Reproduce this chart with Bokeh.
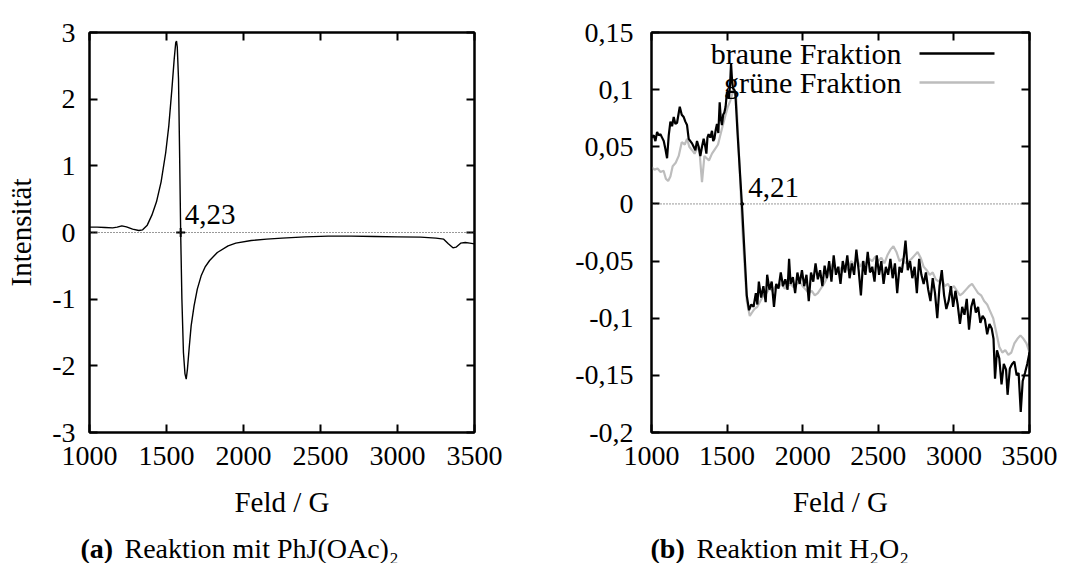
from bokeh.plotting import figure
from bokeh.layouts import row, column
from bokeh.models import Range1d, FixedTicker, LinearAxis, Span, Label, CustomJSTickFormatter
from bokeh.embed import file_html
from bokeh.resources import INLINE

# ---------------- data ----------------
x_ticks = [1000, 1500, 2000, 2500, 3000, 3500]
left_y_ticks = [-3, -2, -1, 0, 1, 2, 3]
right_y_ticks = [-0.2, -0.15, -0.1, -0.05, 0, 0.05, 0.1, 0.15]

# (a) PhJ(OAc)2
a_field = [1000, 1050, 1100, 1150, 1180, 1210, 1240, 1280, 1320, 1345, 1375, 1405, 1435, 1465,
           1495, 1515, 1535, 1550, 1560, 1565, 1570, 1578, 1585, 1592, 1600, 1610, 1620, 1628,
           1636, 1647, 1660, 1679, 1700, 1725, 1750, 1780, 1830, 1900, 1950, 2050, 2150, 2250,
           2400, 2550, 2700, 2850, 3000, 3150, 3250, 3300, 3330, 3360, 3380, 3410, 3440, 3470, 3500]
a_int = [0.08, 0.08, 0.075, 0.07, 0.08, 0.1, 0.085, 0.05, 0.03, 0.04, 0.11, 0.26, 0.46, 0.76,
         1.2, 1.6, 2.15, 2.6, 2.85, 2.87, 2.78, 2.3, 1.2, 0.0, -1.0, -1.8, -2.12, -2.2,
         -2.05, -1.74, -1.4, -1.1, -0.85, -0.65, -0.52, -0.42, -0.3, -0.2, -0.16, -0.12, -0.1, -0.085,
         -0.065, -0.055, -0.055, -0.06, -0.065, -0.07, -0.085, -0.1, -0.17, -0.23, -0.22, -0.16, -0.15, -0.16, -0.17]
a_mark_field = [1592]
a_mark_value = ["4,23"]

# (b) H2O2 - braune Fraktion
b_field = [1000, 1015, 1026, 1037, 1048, 1059, 1070, 1081, 1092, 1103, 1114, 1125, 1136, 1147, 1158,
           1169, 1187, 1200, 1213, 1224, 1235, 1246, 1257, 1268, 1279, 1290, 1301, 1312, 1323, 1334,
           1345, 1356, 1363, 1370, 1378, 1389, 1400, 1408, 1416, 1425, 1433, 1442, 1451, 1458, 1466,
           1474, 1482, 1490, 1499, 1512, 1520, 1526, 1533, 1539, 1547, 1554, 1570, 1600, 1630, 1645,
           1660, 1675, 1690, 1700, 1710, 1725, 1740, 1755, 1765, 1780, 1795, 1810, 1825, 1840, 1855,
           1870, 1885, 1900, 1910, 1920, 1935, 1950, 1965, 1980, 1995, 2010, 2025, 2040, 2055, 2070,
           2085, 2100, 2115, 2130, 2145, 2160, 2175, 2190, 2205, 2220, 2235, 2250, 2265, 2280, 2295,
           2310, 2325, 2340, 2355, 2370, 2385, 2400, 2415, 2430, 2445, 2460, 2475, 2490, 2505, 2520,
           2535, 2550, 2565, 2580, 2595, 2610, 2625, 2640, 2655, 2670, 2680, 2695, 2710, 2725, 2740,
           2755, 2770, 2785, 2800, 2815, 2830, 2845, 2860, 2875, 2890, 2905, 2920, 2935, 2950, 2965,
           2980, 2995, 3010, 3025, 3040, 3055, 3070, 3085, 3100, 3115, 3130, 3145, 3160, 3175, 3190,
           3205, 3220, 3235, 3250, 3262, 3272, 3285, 3300, 3315, 3330, 3345, 3355, 3370, 3385, 3400,
           3415, 3428, 3442, 3455, 3470, 3485, 3500]
b_braun = [0.058, 0.06, 0.055, 0.063, 0.06, 0.061, 0.058, 0.055, 0.048, 0.04, 0.06, 0.072, 0.068, 0.076, 0.07,
           0.071, 0.085, 0.078, 0.076, 0.072, 0.069, 0.057, 0.055, 0.053, 0.05, 0.047, 0.055, 0.05, 0.042, 0.05,
           0.057, 0.05, 0.044, 0.058, 0.061, 0.058, 0.064, 0.055, 0.057, 0.065, 0.07, 0.062, 0.089, 0.075, 0.069,
           0.078, 0.08, 0.085, 0.098, 0.092, 0.105, 0.123, 0.108, 0.101, 0.1, 0.098, 0.06, -0.005, -0.08, -0.093,
           -0.088, -0.09, -0.078, -0.088, -0.068, -0.082, -0.072, -0.086, -0.062, -0.075, -0.068, -0.09, -0.07, -0.074, -0.06,
           -0.072, -0.066, -0.075, -0.048, -0.07, -0.064, -0.078, -0.06, -0.07, -0.058, -0.072, -0.062, -0.085, -0.06, -0.068,
           -0.052, -0.066, -0.058, -0.072, -0.054, -0.065, -0.05, -0.068, -0.045, -0.062, -0.055, -0.07, -0.05, -0.06, -0.045,
           -0.065, -0.052, -0.062, -0.04, -0.058, -0.08, -0.05, -0.062, -0.042, -0.06, -0.055, -0.068, -0.045, -0.062, -0.05,
           -0.07, -0.055, -0.062, -0.048, -0.065, -0.052, -0.078, -0.055, -0.06, -0.045, -0.032, -0.058, -0.05, -0.065, -0.055,
           -0.078, -0.048, -0.062, -0.07, -0.06, -0.075, -0.085, -0.065, -0.078, -0.1, -0.072, -0.058, -0.08, -0.092, -0.085,
           -0.072, -0.09, -0.076, -0.088, -0.105, -0.09, -0.097, -0.083, -0.11, -0.09, -0.083, -0.095, -0.09, -0.104, -0.098,
           -0.101, -0.114, -0.105, -0.109, -0.118, -0.153, -0.128, -0.135, -0.158, -0.14, -0.145, -0.167, -0.144, -0.14, -0.138,
           -0.15, -0.148, -0.182, -0.155, -0.148, -0.14, -0.13]

# (b) H2O2 - grüne Fraktion
g_field = [1000, 1020, 1040, 1060, 1080, 1095, 1110, 1125, 1140, 1160, 1180, 1200, 1220, 1235, 1250,
           1268, 1285, 1300, 1315, 1334, 1350, 1365, 1380, 1400, 1420, 1440, 1455, 1470, 1488, 1505,
           1520, 1543, 1561, 1580, 1600, 1630, 1650, 1665, 1680, 1700, 1720, 1740, 1760, 1780, 1800,
           1820, 1840, 1860, 1880, 1900, 1920, 1940, 1960, 1980, 2000, 2020, 2040, 2060, 2080, 2100,
           2120, 2140, 2160, 2180, 2200, 2220, 2240, 2260, 2280, 2300, 2320, 2340, 2360, 2380, 2400,
           2420, 2440, 2460, 2480, 2500, 2520, 2540, 2560, 2580, 2600, 2620, 2640, 2660, 2680, 2700,
           2720, 2740, 2760, 2780, 2800, 2820, 2840, 2860, 2880, 2900, 2920, 2940, 2960, 2980, 3000,
           3020, 3040, 3060, 3080, 3100, 3120, 3140, 3160, 3180, 3200, 3220, 3240, 3260, 3280, 3300,
           3320, 3340, 3360, 3380, 3400, 3420, 3440, 3460, 3480, 3500]
g_gruen = [0.032, 0.03, 0.031, 0.028, 0.029, 0.022, 0.02, 0.024, 0.033, 0.036, 0.042, 0.054, 0.052, 0.057, 0.05,
           0.047, 0.044, 0.048, 0.05, 0.019, 0.042, 0.04, 0.038, 0.044, 0.048, 0.052, 0.06, 0.068, 0.077, 0.085,
           0.09, 0.1, 0.092, 0.04, -0.02, -0.085, -0.098, -0.095, -0.092, -0.09, -0.085, -0.08, -0.078, -0.074, -0.076,
           -0.072, -0.073, -0.07, -0.074, -0.072, -0.07, -0.073, -0.07, -0.068, -0.072, -0.075, -0.078, -0.076, -0.08, -0.078,
           -0.074, -0.07, -0.065, -0.058, -0.052, -0.058, -0.055, -0.06, -0.054, -0.058, -0.05, -0.053, -0.048, -0.055, -0.05,
           -0.053, -0.048, -0.05, -0.046, -0.05, -0.047, -0.052, -0.045, -0.04, -0.037, -0.042, -0.05, -0.048, -0.052, -0.05,
           -0.048, -0.045, -0.042, -0.047, -0.055, -0.058, -0.062, -0.06, -0.066, -0.068, -0.065, -0.072, -0.07, -0.074, -0.072,
           -0.076, -0.08, -0.078, -0.075, -0.072, -0.07, -0.074, -0.078, -0.08, -0.085, -0.088, -0.094, -0.1, -0.112, -0.125,
           -0.13, -0.128, -0.132, -0.13, -0.122, -0.118, -0.115, -0.118, -0.122, -0.13]
b_mark_field = [1600]
b_mark_value = ["4,21"]
series_names = ["braune Fraktion", "grüne Fraktion"]
series_colors = ["#000000", "#bdbdbd"]
captions = [("(a)", "Reaktion mit PhJ(OAc)₂"), ("(b)", "Reaktion mit H₂O₂")]

# ---------------- style ----------------
FONT = "Liberation Serif"
TICK_FS = "28px"
LABEL_FS = "29px"
CAP_FS = "28px"
FRAME_H = 400
TOP = 32
CAP_H = 35
BOTTOM = 563 - TOP - FRAME_H - CAP_H

empty_fmt = CustomJSTickFormatter(code="return '';")


def style_axes(p, yticks, yformatter):
    p.xaxis.ticker = FixedTicker(ticks=x_ticks)
    p.yaxis.ticker = FixedTicker(ticks=yticks)
    p.yaxis.formatter = yformatter
    p.xaxis.formatter = CustomJSTickFormatter(code="return tick.toString();")
    for ax in p.xaxis + p.yaxis:
        ax.major_label_text_font = FONT
        ax.major_label_text_font_size = TICK_FS
        ax.major_label_text_color = "black"
        ax.axis_label_text_font = FONT
        ax.axis_label_text_font_size = LABEL_FS
        ax.axis_label_text_font_style = "normal"
        ax.axis_label_text_color = "black"
        ax.axis_line_width = 2
        ax.axis_line_color = "black"
        ax.major_tick_in = 8
        ax.major_tick_out = 0
        ax.major_tick_line_width = 2
        ax.minor_tick_line_color = None
        ax.major_label_standoff = 14
    p.xaxis.axis_label_standoff = 18
    p.yaxis.axis_label_standoff = 12
    # mirrored ticks on top and right
    top = LinearAxis(ticker=FixedTicker(ticks=x_ticks), formatter=empty_fmt, major_label_standoff=0,
                     major_tick_in=8, major_tick_out=0, major_tick_line_width=2,
                     axis_line_width=2, minor_tick_line_color=None)
    right = LinearAxis(ticker=FixedTicker(ticks=yticks), formatter=empty_fmt, major_label_standoff=0,
                       major_tick_in=8, major_tick_out=0, major_tick_line_width=2,
                       axis_line_width=2, minor_tick_line_color=None)
    p.add_layout(top, "above")
    p.add_layout(right, "right")
    p.xgrid.visible = False
    p.ygrid.visible = False
    p.outline_line_color = "black"
    p.outline_line_width = 2
    p.add_layout(Span(location=0, dimension="width", line_color="#333333",
                      line_width=1, line_dash="1 2"))


def px_to_y(py, ymin, ymax):
    return ymax - (py - TOP) / FRAME_H * (ymax - ymin)


# ---------------- panel (a) ----------------
A_LEFT, A_W = 89, 385
pa = figure(frame_width=A_W, frame_height=FRAME_H, min_border_left=A_LEFT,
            min_border_right=543 - A_LEFT - A_W, min_border_top=TOP, min_border_bottom=BOTTOM,
            x_range=Range1d(1000, 3500), y_range=Range1d(-3, 3),
            output_backend="svg", toolbar_location=None, background_fill_color="white",
            border_fill_color="white")
pa.xaxis.axis_label = "Feld / G"
pa.yaxis.axis_label = "Intensität"
style_axes(pa, left_y_ticks, CustomJSTickFormatter(code="return tick.toString();"))
pa.line(a_field, a_int, line_color="black", line_width=1.4)
pa.scatter(a_mark_field, [0] * len(a_mark_field), marker="cross", size=9, line_color="black", line_width=2)
for xf, txt in zip(a_mark_field, a_mark_value):
    pa.add_layout(Label(x=xf, y=0, x_offset=4, y_offset=9, text=txt, text_font=FONT,
                        text_font_size=LABEL_FS, text_baseline="bottom", text_color="black"))

# ---------------- panel (b) ----------------
B_LEFT, B_W = 651 - 543, 378
pb = figure(frame_width=B_W, frame_height=FRAME_H, min_border_left=B_LEFT,
            min_border_right=543 - B_LEFT - B_W, min_border_top=TOP, min_border_bottom=BOTTOM,
            x_range=Range1d(1000, 3500), y_range=Range1d(-0.2, 0.15),
            output_backend="svg", toolbar_location=None, background_fill_color="white",
            border_fill_color="white")
pb.xaxis.axis_label = "Feld / G"
fmt = CustomJSTickFormatter(code="var s = (Math.round(tick*100)/100).toString(); return s.replace('.', ',');")
style_axes(pb, right_y_ticks, fmt)
pb.yaxis[0].major_label_standoff = 18
pb.line(g_field, g_gruen, line_color=series_colors[1], line_width=2.2)
pb.line(b_field, b_braun, line_color=series_colors[0], line_width=2.2)
pb.scatter(b_mark_field, [0] * len(b_mark_field), marker="circle", size=3, color="black")
for xf, txt in zip(b_mark_field, b_mark_value):
    pb.add_layout(Label(x=xf, y=0, x_offset=6, y_offset=7, text=txt, text_font=FONT,
                        text_font_size=LABEL_FS, text_baseline="bottom", text_color="black"))


def b_px_to_x(px):
    return 1000 + (px - 651) / B_W * 2500


# legend (text left of sample line, as in the original)
leg_rows = [53, 82]
for name, col, ry in zip(series_names, series_colors, leg_rows):
    yv = px_to_y(ry, -0.2, 0.15)
    pb.add_layout(Label(x=b_px_to_x(901), y=yv, text=name, text_font=FONT, text_font_size="30px",
                        text_align="right", text_baseline="middle", text_color="black"))
    pb.segment(x0=[b_px_to_x(919)], y0=[yv], x1=[b_px_to_x(994)], y1=[yv], line_color=col, line_width=2.4)

# ---------------- captions strip ----------------
pc = figure(frame_width=1086, frame_height=CAP_H, min_border=0,
            x_range=Range1d(0, 1086), y_range=Range1d(0, CAP_H),
            x_axis_type=None, y_axis_type=None,
            output_backend="svg", toolbar_location=None, background_fill_color="white",
            border_fill_color="white")
pc.outline_line_color = None
pc.xgrid.visible = False
pc.ygrid.visible = False
cap_y = 563 - 548
cap_pos = [(80, 124), (650, 696)]
for (tag, txt), (x_tag, x_txt) in zip(captions, cap_pos):
    pc.add_layout(Label(x=x_tag, y=cap_y, text=tag, text_font=FONT, text_font_style="bold",
                        text_font_size=CAP_FS, text_baseline="middle", text_align="left",
                        text_color="black"))
    pc.add_layout(Label(x=x_txt, y=cap_y, text=txt, text_font=FONT,
                        text_font_size=CAP_FS, text_baseline="middle", text_align="left",
                        text_color="black"))

layout = column(row(pa, pb, spacing=0), pc, spacing=0)
open("out.html", "w").write(file_html(layout, INLINE))
